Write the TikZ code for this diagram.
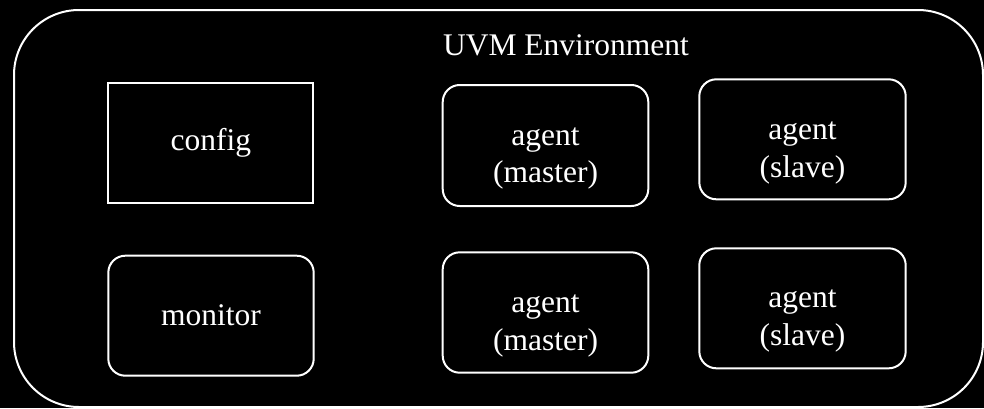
\documentclass[tikz,border=0pt]{standalone}
\usepackage{fontspec}
\setmainfont{Liberation Serif}
\begin{document}
\begin{tikzpicture}[x=1pt,y=-1pt,
  box/.style={draw=white,line width=2pt},
  lbl/.style={text=white,font=\fontsize{31.5}{37.5}\selectfont,align=center,inner sep=0pt}]
\fill[black] (0,0) rectangle (984,408);
\useasboundingbox (0,0) rectangle (984,408);
\draw[box,rounded corners=65pt] (14,10) rectangle (983,407);
\node[lbl] (env) at (566,45.5) {UVM Environment};
% config
\draw[box] (108.3,82.7) rectangle (313.3,202.7);
\node[lbl] (config) at (210.8,142.7) {config};
% monitor
\draw[box,rounded corners=17pt] (108.3,255.7) rectangle (313.7,375.7);
\node[lbl] (monitor) at (211,315.7) {monitor};
% agents
\draw[box,rounded corners=17pt] (442.7,85) rectangle (648.3,206);
\node[lbl] (am1) at (545.5,158.5) {agent\\(master)};
\draw[box,rounded corners=17pt] (699.3,79.3) rectangle (905.7,199.3);
\node[lbl] (as1) at (802.5,153) {agent\\(slave)};
\draw[box,rounded corners=17pt] (442.7,252.3) rectangle (648.3,372.7);
\node[lbl] (am2) at (545.5,326) {agent\\(master)};
\draw[box,rounded corners=17pt] (699.3,248.3) rectangle (905.7,368.3);
\node[lbl] (as2) at (802.5,321) {agent\\(slave)};
\end{tikzpicture}
\end{document}
